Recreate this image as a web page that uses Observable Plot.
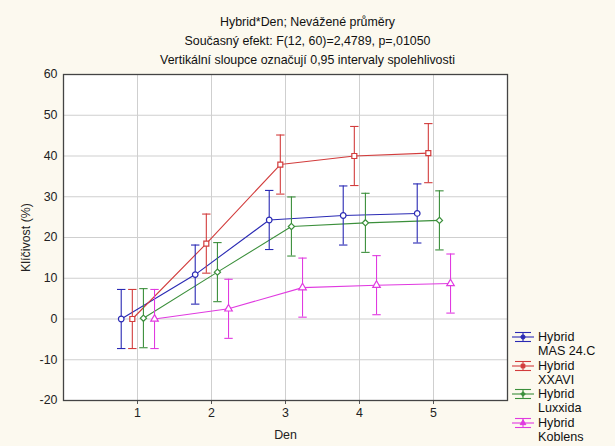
<!DOCTYPE html>
<html>
<head>
<meta charset="utf-8">
<script src="https://cdn.jsdelivr.net/npm/d3@7"></script>
<script src="https://cdn.jsdelivr.net/npm/@observablehq/plot@0.6"></script>
<style>
  html, body { margin: 0; padding: 0; background: #fcf9ef; }
  body { font-family: "Liberation Sans", Arial, sans-serif; }
  #wrap { position: relative; width: 615px; height: 446px; overflow: hidden; }
  #title { position: absolute; left: 0; top: 13px; width: 615px; text-align: center;
           font-size: 12.4px; line-height: 19px; color: #111; }
  #legend { position: absolute; left: 512px; top: 330px; font-size: 12.6px; line-height: 14.3px; color: #111; }
  .item { display: flex; align-items: flex-start; }
  .item svg { flex: none; margin-top: 1px; margin-right: 4px; }
  #chart svg { display: block; }
</style>
</head>
<body>
<div id="wrap">
  <div id="chart"></div>
  <div id="title"></div>
  <div id="legend"></div>
</div>
<script>
// ---- data ----
const titleLines = [
  "Hybrid*Den; Nevážené průměry",
  "Současný efekt: F(12, 60)=2,4789, p=,01050",
  "Vertikální sloupce označují 0,95 intervaly spolehlivosti"
];
const days = [1, 2, 3, 4, 5];
const hybrids = ["MAS 24.C", "XXAVI", "Luxxida", "Koblens"];
const masMeans     = [0.0, 10.9, 24.3, 25.4, 25.9];
const xxaviMeans   = [0.0, 18.5, 37.9, 40.0, 40.7];
const luxxidaMeans = [0.2, 11.5, 22.7, 23.6, 24.2];
const koblensMeans = [0.0, 2.5, 7.7, 8.3, 8.7];
const ciHalfWidth = 7.25; // pooled 0.95 CI half-width
const yTicks = [-20, -10, 0, 10, 20, 30, 40, 50, 60];
const xTicks = [1, 2, 3, 4, 5];

// ---- styling ----
const colors = ["#2a2ab4", "#d23c3c", "#3b8f3b", "#e03ae0"];
const symbols = ["circle", "square", "diamond2", "triangle"];
const dodge = [-0.22, -0.07, 0.08, 0.23];

const seriesMeans = [masMeans, xxaviMeans, luxxidaMeans, koblensMeans];
const rows = [];
hybrids.forEach((h, i) => {
  days.forEach((d, j) => {
    const m = seriesMeans[i][j];
    rows.push({hybrid: h, day: d, xpos: d + dodge[i], mean: m, lo: m - ciHalfWidth, hi: m + ciHalfWidth});
  });
});

const cap = {
  draw(ctx, size) {
    const r = Math.sqrt(size / Math.PI);
    ctx.moveTo(-r, 0);
    ctx.lineTo(r, 0);
  }
};

const fmt = d => String(d);
const font = "Liberation Sans, Arial, sans-serif";
const plot = Plot.plot({
  width: 615,
  height: 446,
  marginTop: 74,
  marginLeft: 63,
  marginRight: 108,
  marginBottom: 46,
  style: {background: "transparent", fontFamily: font, fontSize: "12.4px", color: "#222"},
  x: {domain: [0, 6]},
  y: {domain: [-20, 60]},
  color: {domain: hybrids, range: colors},
  symbol: {domain: hybrids, range: symbols},
  marks: [
    Plot.frame({fill: "white", stroke: "none"}),
    Plot.gridX(xTicks, {stroke: "#cfcfcf", strokeOpacity: 1}),
    Plot.gridY(yTicks, {stroke: "#cfcfcf", strokeOpacity: 1}),
    Plot.axisX({ticks: xTicks, tickFormat: fmt, tickSize: 4, tickPadding: 4, stroke: "#555", label: "Den", labelAnchor: "center", labelArrow: "none", labelOffset: 38}),
    Plot.axisY({ticks: yTicks, tickFormat: fmt, tickSize: 0, tickPadding: 6, label: "Klíčivost (%)", labelAnchor: "center", labelArrow: "none", labelOffset: 42}),
    Plot.line(rows, {x: "xpos", y: "mean", z: "hybrid", stroke: "hybrid", strokeWidth: 1.1}),
    Plot.ruleX(rows, {x: "xpos", y1: "lo", y2: "hi", stroke: "hybrid", strokeWidth: 1.1}),
    Plot.dot(rows, {x: "xpos", y: "lo", symbol: () => cap, r: 4.2, stroke: "hybrid", strokeWidth: 1.1}),
    Plot.dot(rows, {x: "xpos", y: "hi", symbol: () => cap, r: 4.2, stroke: "hybrid", strokeWidth: 1.1}),
    Plot.dot(rows, {x: "xpos", y: "mean", symbol: "hybrid", stroke: "hybrid", fill: "white", r: 2.8, strokeWidth: 1.2}),
    Plot.frame({stroke: "#444", strokeWidth: 1.3})
  ]
});
document.getElementById("chart").appendChild(plot);

// title
document.getElementById("title").innerHTML = titleLines.map(t => `<div>${t}</div>`).join("");

// legend
const legend = document.getElementById("legend");
const shapes = {
  circle: d3.symbol(d3.symbolCircle, 14)(),
  square: d3.symbol(d3.symbolSquare, 14)(),
  diamond2: d3.symbol(d3.symbolDiamond2, 14)(),
  triangle: d3.symbol(d3.symbolTriangle, 14)()
};
hybrids.forEach((h, i) => {
  const c = colors[i];
  const div = document.createElement("div");
  div.className = "item";
  div.innerHTML = `<svg width="22" height="12" viewBox="0 0 22 12">
      <line x1="0" x2="22" y1="6" y2="6" stroke="${c}" stroke-width="1.1"/>
      <line x1="3" x2="19" y1="1.5" y2="1.5" stroke="${c}" stroke-width="1.1"/>
      <line x1="3" x2="19" y1="10.5" y2="10.5" stroke="${c}" stroke-width="1.1"/>
      <line x1="11" x2="11" y1="1.5" y2="10.5" stroke="${c}" stroke-width="1.1"/>
      <path transform="translate(11,6)" d="${shapes[symbols[i]]}" fill="${c}" stroke="${c}" stroke-width="1"/>
    </svg><div>Hybrid<br>${h}</div>`;
  legend.appendChild(div);
});
</script>
</body>
</html>
